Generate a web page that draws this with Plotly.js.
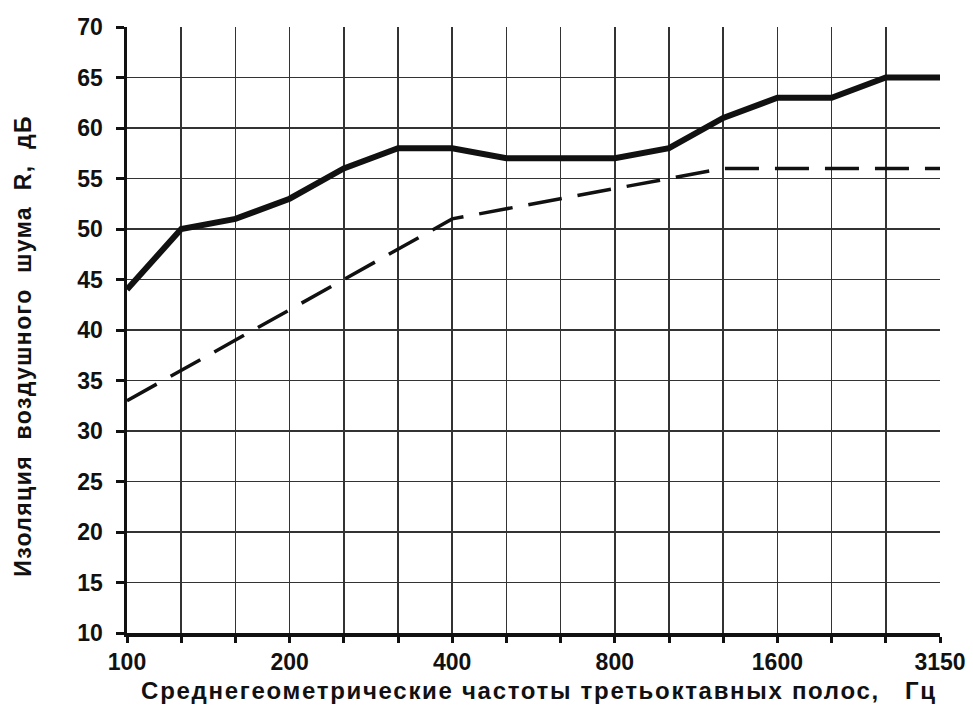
<!DOCTYPE html>
<html>
<head>
<meta charset="utf-8">
<script src="https://cdn.plot.ly/plotly-3.0.1.min.js"></script>
<style>
html,body{margin:0;padding:0;background:#fff;}
#chart{width:973px;height:707px;}
#chart g.annotation[data-index="0"] .annotation-text{letter-spacing:1.7px;}
#chart g.annotation[data-index="1"] .annotation-text{letter-spacing:1.4px;}
</style>
</head>
<body>
<div id="chart"></div>
<script>
const freqs = ["100","125","160","200","250","315","400","500","630","800","1000","1250","1600","2000","2500","3150"];
const tickLabels = ["100","","","200","","","400","","","800","","","1600","","","3150"];
const measured = [44,50,51,53,56,58,58,57,57,57,58,61,63,63,65,65];
const reference = [33,36,39,42,45,48,51,52,53,54,55,56,56,56,56,56];
const xTitle = 'Среднегеометрические частоты третьоктавных полос,&nbsp;&nbsp;&nbsp;Гц';
const yTitle = 'Изоляция&nbsp;&nbsp;воздушного&nbsp;&nbsp;шума&nbsp;&nbsp;R,&nbsp;&nbsp;дБ';

const data = [
  {x: freqs, y: measured, type: 'scatter', mode: 'lines',
   line: {color: '#111', width: 6}, hoverinfo: 'skip'},
  {x: freqs, y: reference, type: 'scatter', mode: 'lines',
   line: {color: '#111', width: 3.5, dash: '34px,16px'}, hoverinfo: 'skip'}
];

const F = 'Liberation Sans, Arial, sans-serif';
const layout = {
  width: 973, height: 707,
  margin: {l: 127, r: 33, t: 27, b: 74},
  paper_bgcolor: '#fff', plot_bgcolor: '#fff',
  showlegend: false,
  font: {family: F, color: '#111'},
  xaxis: {
    type: 'category', range: [0, 15],
    tickvals: freqs, ticktext: tickLabels,
    showgrid: true, gridcolor: '#333', gridwidth: 1.6,
    showline: true, linecolor: '#111', linewidth: 3.5,
    ticks: 'outside', ticklen: 6, tickwidth: 3, tickcolor: '#111',
    tickfont: {size: 23, family: F, color: '#111', weight: 'bold'},
    zeroline: false
  },
  yaxis: {
    range: [10, 70], dtick: 5,
    showgrid: true, gridcolor: '#333', gridwidth: 1.6,
    showline: true, linecolor: '#111', linewidth: 3.5,
    ticks: 'outside', ticklen: 8, tickwidth: 3, tickcolor: '#111',
    ticklabelstandoff: 8,
    tickfont: {size: 23, family: F, color: '#111', weight: 'bold'},
    zeroline: false
  },
  annotations: [
    {text: '<b>' + xTitle + '</b>', xref: 'paper', yref: 'paper', x: 0.5, y: 0,
     xanchor: 'center', yanchor: 'middle', xshift: 5, yshift: -57, showarrow: false,
     font: {size: 24, family: F, color: '#111'}},
    {text: '<b>' + yTitle + '</b>', xref: 'paper', yref: 'paper', x: 0, y: 0.5,
     xanchor: 'center', yanchor: 'middle', xshift: -104, yshift: -16, textangle: -90, showarrow: false,
     font: {size: 23, family: F, color: '#111'}}
  ]
};

Plotly.newPlot('chart', data, layout, {staticPlot: true});
</script>
</body>
</html>
